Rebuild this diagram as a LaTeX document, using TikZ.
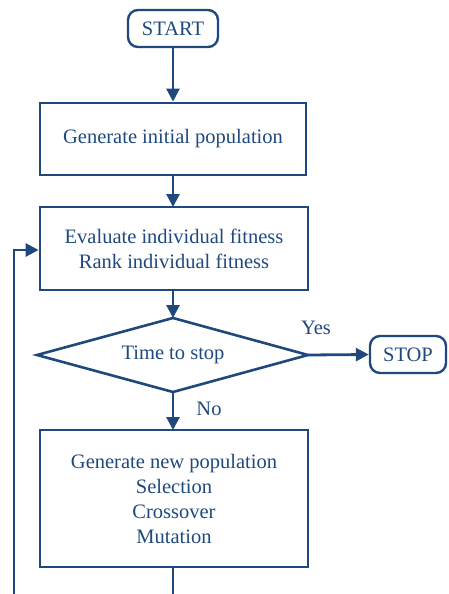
\documentclass[tikz,border=0pt]{standalone}
\usepackage{fontspec}
\setmainfont{Liberation Serif}
\usetikzlibrary{arrows.meta,shapes.geometric}
\definecolor{fc}{RGB}{31,73,125}
\begin{document}
\begin{tikzpicture}[x=1pt,y=-1pt,
  every node/.style={text=fc,font=\fontsize{20.5}{25}\selectfont},
  boxn/.style={draw=fc,line width=2.8pt,rectangle,inner sep=0pt,align=center},
  term/.style={draw=fc,line width=2.4pt,rectangle,rounded corners=10pt,inner sep=0pt},
  dia/.style={draw=fc,line width=2.6pt,line join=miter},
  conn/.style={draw=fc,line width=2.8pt,-{Triangle[length=13pt,width=13pt]}},
  plain/.style={draw=fc,line width=2.8pt}]
\useasboundingbox (0,0) rectangle (448,594);
\node[term,minimum width=90pt,minimum height=37pt] (start) at (173,28.5) {START};
\node[boxn,minimum width=266pt,minimum height=72pt] (gen) at (173,139) {Generate initial population};
\node[boxn,minimum width=268pt,minimum height=83pt] (eval) at (174,248.5) {Evaluate individual fitness\\Rank individual fitness};
\draw[dia] (37,355) -- (173,318) -- (308,355) -- (173,392) -- cycle;
\node[inner sep=0pt] (dtxt) at (173,355) {Time to stop};
\coordinate (dtop) at (173,318);
\coordinate (dright) at (308,355);
\coordinate (dbot) at (173,392);
\node[term,minimum width=76pt,minimum height=37pt] (stop) at (408,354.5) {STOP};
\node[boxn,minimum width=268pt,minimum height=137pt] (newpop) at (174,498.5) {Generate new population\\Selection\\Crossover\\Mutation};
\node[inner sep=0pt] (yes) at (316,328) {Yes};
\node[inner sep=0pt] (no) at (209,409) {No};
\coordinate (b1) at (173,594);
\coordinate (b2) at (14,594);
\coordinate (b3) at (14,250);
\draw[conn] (start.south) -- (start.south |- gen.north);
\draw[conn] (173,175) -- (173,207);
\draw[conn] (173,290) -- (dtop);
\draw[conn] (dright) -- (stop.west);
\draw[conn] (dbot) -- (173,430);
\draw[plain] (173,567) -- (b1);
\draw[conn] (b2) -- (b3) -- (eval.west |- b3);
\end{tikzpicture}
\end{document}
